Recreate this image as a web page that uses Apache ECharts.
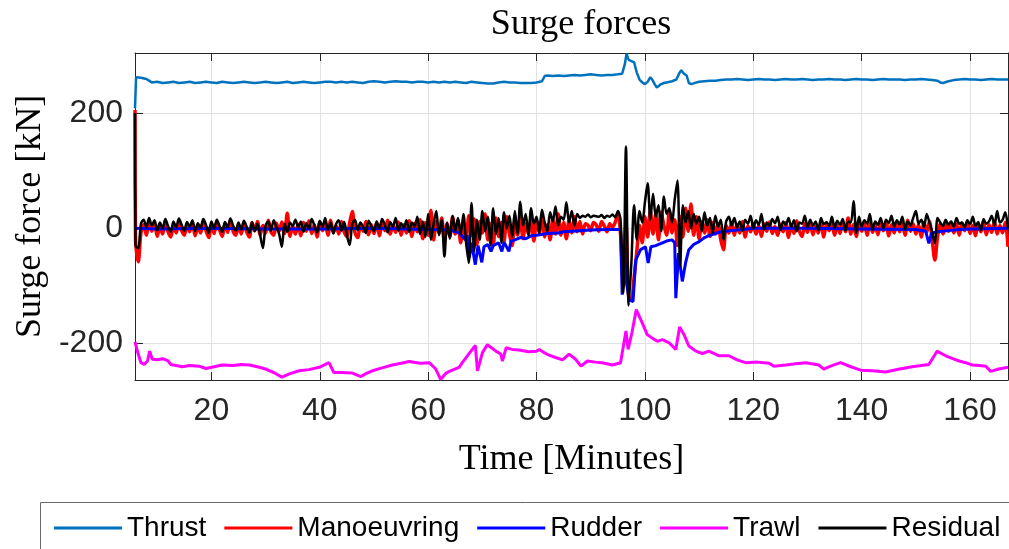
<!DOCTYPE html>
<html>
<head>
<meta charset="utf-8">
<script src="https://cdn.jsdelivr.net/npm/echarts@6/dist/echarts.min.js"></script>
<style>html,body{margin:0;padding:0;background:#fff}#c{width:1009px;height:549px}</style>
</head>
<body>
<div id="c"></div>
<script>
// ---- data ----
const xTicks = [20, 40, 60, 80, 100, 120, 140, 160];
const yTicks = [-200, 0, 200];
const seriesNames = ['Thrust', 'Manoeuvring', 'Rudder', 'Trawl', 'Residual'];

// Thrust: [time (min), force (kN)]
const thrust = [
[5.9,208],[6.1,262],[7,261],[8,259],[9,253],[10,254],[11,252],[12,253],[13,254],[14,252],[15,253],[16,254],[17,252],[18,253],[19,254],
[20,253],[21,252],[22,254],[23,253],[24,252],[25,253],[26,254],[27,253],[28,252],[29,253],[30,254],[31,253],[32,252],[33,253],[34,254],
[35,252],[36,253],[37,254],[38,253],[39,252],[40,253],[41,254],[42,254],[43,253],[44,254],[45,253],[46,254],[47,253],[48,252],[49,254],
[50,255],[51,254],[52,253],[53,254],[54,255],[55,254],[56,254],[57,253],[58,254],[59,254],[60,253],[61,254],[62,253],[63,254],[64,253],
[65,254],[66,253],[67,252],[68,254],[69,253],[70,252],[71,251],[72,251],[73,253],[74,254],[75,253],[76,253],[77,252],[78,252],[79,252],
[80,253],[81,255],[81.5,264],[82,265],[83,264],[84,265],[85,264],[86,265],[87,266],[88,265],[89,266],[90,267],[91,266],[92,265],[93,266],
[94,266],[95,267],[95.8,268],[96.3,285],[96.6,303],[97,292],[97.5,290],[98,288],[98.5,270],[99,258],[99.5,253],[100,250],[100.5,254],
[101,262],[101.4,257],[101.8,250],[102.2,244],[102.8,249],[103.5,252],[104,253],[105,255],[105.8,258],[106.4,270],[106.7,274],[107.2,268],
[107.7,265],[108.1,252],[108.6,250],[109.5,253],[110,254],[111,255],[112,256],[113,256],[114,257],[115,258],[116,258],[117,259],[118,258],
[119,257],[120,258],[121,259],[122,258],[123,258],[124,257],[125,258],[126,259],[127,258],[128,258],[129,259],[130,258],[131,257],[132,258],
[133,258],[134,259],[135,258],[136,258],[137,257],[138,258],[139,259],[140,258],[141,258],[142,257],[143,258],[144,259],[145,258],[146,258],
[147,258],[148,257],[149,258],[150,258],[151,259],[152,258],[153,257],[154,256],[154.5,253],[155,252],[156,255],[157,257],[158,258],[159,259],
[160,258],[161,258],[162,257],[163,258],[164,259],[165,258],[166,258],[167,258]];

// Trawl: [time (min), force (kN)]
const trawl = [
[5.9,-197],[6.4,-215],[7,-233],[7.6,-236],[8.2,-230],[8.6,-213],[9.1,-227],[10,-228],[11,-226],[12,-230],[12.5,-236],[13.5,-238],[14.6,-240],
[16,-238],[17.7,-239],[19,-243],[20.5,-240],[22,-237],[24,-238],[25.5,-236],[27,-237],[28.5,-240],[30,-244],[31.5,-250],[33,-258],[34.5,-252],
[36.2,-247],[38,-245],[39.9,-241],[41.7,-233],[42.6,-250],[44,-250],[46,-251],[47.6,-257],[48.5,-252],[49.7,-247],[51.5,-242],[53.4,-237],
[55,-234],[56.5,-231],[58.5,-234],[60.2,-233],[61.4,-244],[62.3,-262],[63.2,-252],[63.9,-248],[65.7,-241],[66.3,-233],[67.9,-213],[68.7,-203],
[69.1,-247],[70,-216],[70.9,-202],[71.8,-208],[72.5,-213],[73.4,-218],[73.7,-230],[74.4,-207],[75.5,-210],[76.8,-211],[78.5,-214],[80,-213],
[80.5,-210],[81.5,-216],[82.3,-220],[83.5,-224],[84.8,-228],[86,-218],[87.2,-227],[88.2,-239],[89.4,-230],[90.8,-232],[92.1,-233],[94,-237],
[95.5,-233],[96.5,-178],[96.9,-210],[97.6,-181],[98.4,-141],[99.5,-164],[100.4,-184],[101.3,-190],[102.3,-196],[103.2,-193],[104.4,-198],
[105.7,-210],[106.4,-171],[107.2,-184],[108.1,-204],[109.4,-213],[110.6,-217],[111.8,-213],[113.7,-221],[115.5,-221],[117,-228],[118.6,-233],
[120.8,-232],[122.9,-234],[123.8,-239],[126,-237],[127.8,-235],[129.7,-233],[132.1,-237],[133,-244],[134.5,-238],[136.1,-233],[138,-240],
[139.8,-246],[142,-247],[144.4,-249],[147,-244],[149.3,-240],[151,-238],[152.4,-236],[153.9,-213],[155.5,-221],[156.8,-226],[158,-230],
[159.2,-233],[160.4,-237],[161.7,-238],[162.9,-239],[163.8,-248],[165.3,-244],[167,-241]];

// Rudder: [time (min), force (kN)]
const rudder = [
[5.9,0],[10,-1],[20,0],[30,-1],[40,-1],[50,0],[60,-2],[64,-3],[65.7,-8],[66.9,-20],[67.2,-12],[67.6,-51],[68,-25],[68.7,-63],[69.2,-30],
[69.9,-59],[70.3,-32],[71,-28],[71.6,-40],[72,-30],[73,-25],[73.6,-40],[74,-24],[74.9,-40],[75.3,-22],[76,-20],[77,-16],[78,-18],[79,-13],
[80,-12],[82,-9],[84,-8],[85,-6],[88,-4],[90,-3],[93,-2],[95.5,-2],[95.8,-115],[96.2,-30],[96.5,-89],[97.1,-124],[97.8,-127],[98.3,-55],
[99.2,-37],[100.1,-32],[100.6,-60],[101.1,-32],[102,-30],[103,-26],[104,-22],[105,-20],[105.5,-25],[105.7,-121],[106.2,-43],[106.9,-92],
[107.5,-60],[108.1,-37],[109,-28],[110,-23],[111,-16],[112,-12],[113,-9],[114,-6],[116,-4],[118,-2],[120,0],[130,0],[140,-1],[150,-2],
[151.8,-5],[152.4,-26],[152.9,-8],[154,-6],[156,-4],[158,-2],[160,-1],[167,0]];

// Manoeuvring and Residual: sampled every 0.5 min from 6.0 min, after a first sample at 5.9 min
const sampleStart = 6.0;
const sampleStep = 0.5;
const firstT = 5.9;
const manoeuvringFirst = 205;
const residualFirst = 200;
const manoeuvringV = [
-20,-58,-8,6,-12,10,-5,8,-14,4,-10,12,-6,-15,5,-8,10,-4,-12,6,
-6,9,-13,3,-8,12,-4,-16,7,-9,11,-3,-14,8,-7,13,-5,-12,6,-10,
8,-6,-15,10,-4,12,-11,5,-8,14,-6,-12,9,-5,11,-9,26,-14,4,-10,
7,-13,10,-5,13,-9,6,-15,11,-4,8,-12,14,-7,5,-10,12,-6,-14,9,
29,-8,-16,7,-5,12,-11,6,-9,10,-13,8,-4,14,-10,5,-7,11,-12,6,
-8,13,-14,9,-6,15,-18,10,-12,31,-20,12,-9,18,-22,8,-15,20,-10,14,
-25,10,-18,22,-12,16,-28,12,-8,25,-20,8,-30,18,-14,10,-22,20,-10,-30,
15,-12,20,-18,8,-10,18,-22,12,-8,22,-15,6,-20,16,-10,25,-12,10,-18,
14,-8,20,-6,12,-10,8,5,-4,10,6,-5,12,4,-6,8,2,10,26,-10,
-100,10,-118,-124,-85,-40,5,-25,20,-15,30,-10,25,-20,28,5,-12,30,-8,15,
-30,20,-15,35,-5,42,-12,20,-18,12,-8,15,-14,10,-10,8,-20,-37,5,-8,
10,-12,6,-8,12,-15,4,-6,9,-10,5,-14,8,-5,11,-9,3,-12,7,-6,
10,-16,6,-9,13,-5,-14,8,-7,10,-11,4,-8,12,-15,6,-4,9,-12,5,
-9,12,-6,18,-10,7,-14,10,-5,8,-12,15,-7,5,-11,9,-4,12,-13,6,
-8,11,-6,9,-12,14,-5,8,-10,6,-15,10,-7,12,-20,-55,-15,8,-10,6,
-5,10,-8,7,-12,9,-4,11,-9,5,-13,8,-6,10,-11,6,-7,12,-10,5,
-8,10,-32];
const residualV = [
-30,-34,8,15,2,18,5,14,-3,10,0,16,4,-6,12,2,17,6,-4,11,
3,14,-5,9,1,16,6,-8,12,0,15,4,-6,11,2,17,5,-4,10,-2,
13,3,-8,10,-5,8,-12,-34,5,12,-4,14,2,-10,-32,8,-6,10,4,15,
2,12,-6,9,0,16,5,-7,13,3,18,-2,10,-9,7,14,-4,11,-12,-29,
8,15,-3,10,2,-8,13,4,-5,12,0,16,6,-7,11,3,18,-4,9,1,
14,-6,10,3,20,-10,12,-15,25,-20,8,30,-12,15,-49,10,-18,22,-5,18,
-10,25,-25,-60,44,-40,15,-20,30,-5,20,-30,35,-10,18,-25,28,0,22,-15,
30,-10,46,5,25,-12,35,8,20,-8,32,10,-5,28,12,38,5,20,15,45,
10,30,5,25,18,22,20,24,19,22,21,20,23,18,22,20,24,19,30,15,
-112,142,-134,-60,40,-20,30,10,45,78,15,60,20,40,-5,55,25,35,10,50,
83,-66,40,10,30,0,25,8,20,-5,28,5,18,-8,22,3,15,-20,12,20,
5,18,2,12,-4,15,8,22,0,14,6,25,-2,10,4,16,9,20,-3,12,
6,18,3,14,-5,10,8,22,2,15,5,12,-3,18,7,11,4,20,1,13,
6,16,-4,12,10,47,-8,20,3,14,8,25,-2,12,6,18,0,15,9,22,
3,14,7,20,-2,12,5,18,30,8,15,2,25,10,-6,-26,18,10,4,15,
6,12,3,18,8,10,2,14,7,20,4,11,-3,16,8,12,22,5,30,10,
15,28,0];

// ---- build series ----
function sampled(first, vs) {
  const out = [[firstT, first]];
  vs.forEach((v, i) => out.push([sampleStart + i * sampleStep, v]));
  return out;
}

const AX = '#262626';
const chart = echarts.init(document.getElementById('c'), null, {renderer: 'canvas'});
const sans = 'Liberation Sans, Arial, Helvetica, sans-serif';
const serif = 'Liberation Serif, Times New Roman, serif';

function axisCommon(pos, ticks, showLabel) {
  return {
    type: 'value',
    position: pos,
    axisLine: {show: true, onZero: false, lineStyle: {color: AX, width: 1}},
    axisTick: {show: true, inside: true, length: 8, customValues: ticks, lineStyle: {color: AX, width: 1}},
    axisLabel: {show: showLabel, customValues: ticks, color: AX, fontFamily: sans, fontSize: 32},
    splitLine: {show: showLabel, lineStyle: {color: '#e2e2e2', width: 1}}
  };
}

const xMain = Object.assign(axisCommon('bottom', xTicks, true), {
  min: 5.9, max: 167,
  name: 'Time [Minutes]', nameLocation: 'middle', nameGap: 62,
  nameTextStyle: {fontFamily: serif, fontSize: 36, color: '#000'}
});
xMain.axisLabel.margin = 15;
const xTop = Object.assign(axisCommon('top', xTicks, false), {min: 5.9, max: 167});
const yMain = Object.assign(axisCommon('left', yTicks, true), {
  min: -263, max: 304,
  name: 'Surge force [kN]', nameLocation: 'middle', nameGap: 86, nameRotate: 90,
  nameTextStyle: {fontFamily: serif, fontSize: 36, color: '#000'}
});
yMain.axisLabel.margin = 12;
const yRight = Object.assign(axisCommon('right', yTicks, false), {min: -263, max: 304});

const colors = ['#0072BD', '#FF0000', '#0000FF', '#FF00FF', '#000000'];
const widths = [2.5, 3.5, 3, 3, 2.5];
const smooths = [false, 0.3, false, false, 0.3];
const datas = [
  thrust,
  sampled(manoeuvringFirst, manoeuvringV),
  rudder,
  trawl,
  sampled(residualFirst, residualV)
];

chart.setOption({
  animation: false,
  backgroundColor: '#fff',
  title: {
    text: 'Surge forces', left: 576, top: 2, textAlign: 'center',
    textStyle: {fontFamily: serif, fontSize: 36, fontWeight: 'normal', color: '#000'}
  },
  grid: {left: 135, top: 53, right: 1, bottom: 169, containLabel: false},
  xAxis: [xMain, xTop],
  yAxis: [yMain, yRight],
  legend: {
    data: seriesNames, left: 54, top: 514, icon: 'rect', itemWidth: 68, itemHeight: 3,
    itemGap: 18, padding: 0,
    textStyle: {fontFamily: sans, fontSize: 28, color: '#000'}
  },
  graphic: [{
    type: 'rect', z: -1, silent: true,
    shape: {x: 40.5, y: 502.5, width: 1000, height: 100},
    style: {fill: '#fff', stroke: '#6a6a6a', lineWidth: 1}
  }],
  series: seriesNames.map((n, i) => ({
    name: n, type: 'line', data: datas[i], showSymbol: false, symbol: 'none',
    xAxisIndex: 0, yAxisIndex: 0, clip: true, smooth: smooths[i],
    lineStyle: {color: colors[i], width: widths[i]},
    itemStyle: {color: colors[i]},
    z: 2 + i
  }))
});
</script>
</body>
</html>
